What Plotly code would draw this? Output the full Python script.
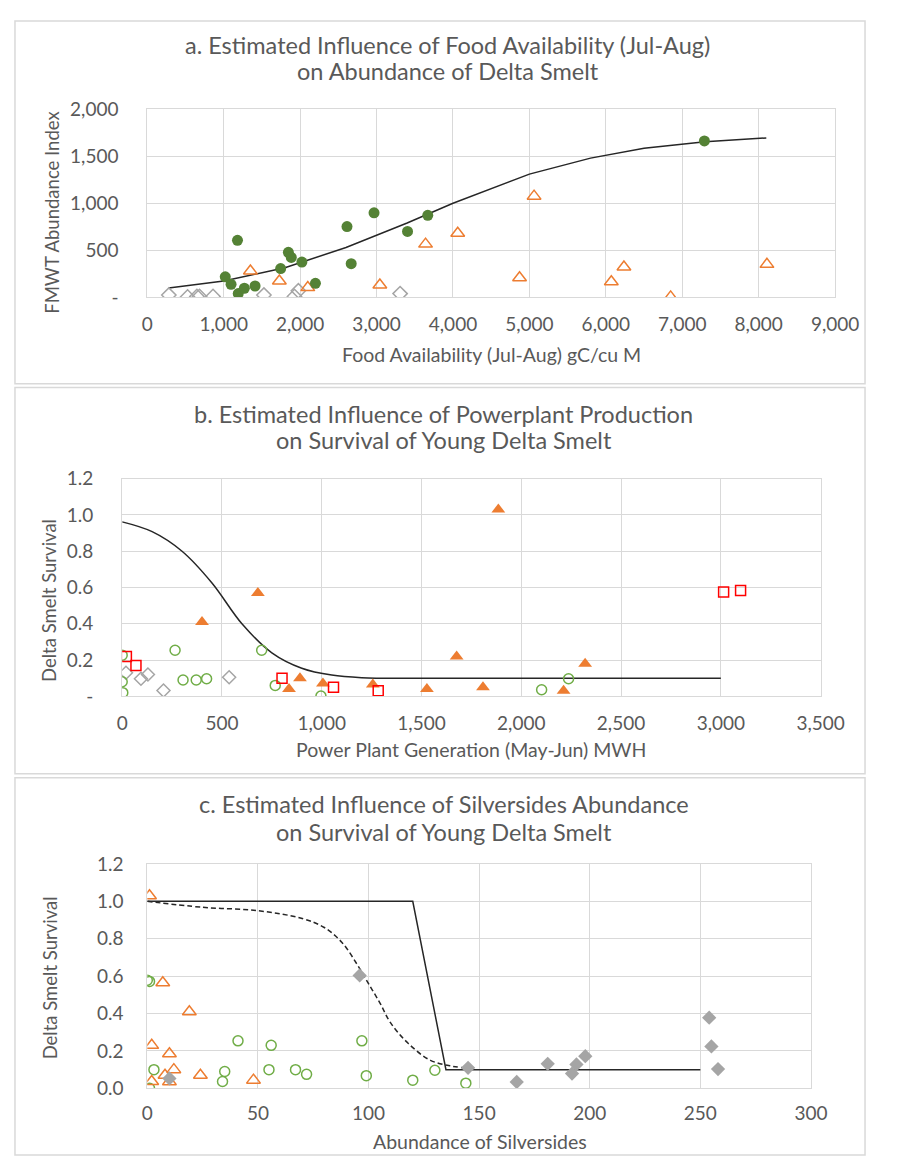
import plotly.graph_objects as go

# page has an 8px body margin; figure sized so the page does not overflow
OFF = 8
W, H = 898 - 2 * OFF, 1175 - 2 * OFF

# ---------------- Panel a data ----------------
a_green_x = [1020, 1096, 1180, 1190, 1270, 1410, 1745, 1846, 1884, 2023, 2200, 2613, 2668, 2967, 3405, 3670, 7290]
a_green_y = [219, 139, 607, 40, 97, 121, 306, 479, 424, 375, 149, 753, 358, 899, 701, 872, 1663]
a_tri_x = [1349, 1728, 2100, 3043, 3641, 4062, 4871, 5061, 6072, 6237, 6848, 8108]
a_tri_y = [281, 174, 104, 132, 566, 681, 208, 1076, 167, 323, 5, 351]
a_dia_x = [282, 527, 649, 683, 860, 1526, 1926, 1977, 3308]
a_dia_y = [25, 5, 10, 10, 10, 25, 10, 70, 40]
a_fit_x = [280, 1000, 1800, 2600, 3400, 4000, 5000, 5800, 6500, 7300, 8100]
a_fit_y = [100, 175, 315, 530, 790, 1000, 1310, 1480, 1585, 1655, 1695]
a_xticks = [0, 1000, 2000, 3000, 4000, 5000, 6000, 7000, 8000, 9000]
a_xticktext = ["0", "1,000", "2,000", "3,000", "4,000", "5,000", "6,000", "7,000", "8,000", "9,000"]
a_yticks = [0, 500, 1000, 1500, 2000]
a_yticktext = ["-", "500", "1,000", "1,500", "2,000"]

# ---------------- Panel b data ----------------
b_tri_x = [400, 680, 836, 891, 1006, 1256, 1527, 1676, 1808, 1885, 2212, 2320]
b_tri_y = [0.41, 0.57, 0.04, 0.10, 0.07, 0.065, 0.04, 0.22, 0.05, 1.03, 0.03, 0.18]
b_sq_x = [21, 69, 801, 1059, 1283, 3014, 3099]
b_sq_y = [0.22, 0.17, 0.10, 0.05, 0.03, 0.575, 0.584]
b_circ_x = [0, 0, 3, 265, 305, 371, 423, 699, 767, 996, 2102, 2237]
b_circ_y = [0.227, 0.08, 0.02, 0.254, 0.09, 0.09, 0.097, 0.254, 0.06, 0.002, 0.036, 0.097]
b_dia_x = [19, 94, 129, 207, 536]
b_dia_y = [0.13, 0.097, 0.12, 0.032, 0.105]
b_fit_x = [0, 150, 300, 450, 600, 750, 900, 1050, 1200, 1500, 3000]
b_fit_y = [0.962, 0.908, 0.80, 0.625, 0.40, 0.24, 0.155, 0.117, 0.103, 0.10, 0.10]
b_xticks = [0, 500, 1000, 1500, 2000, 2500, 3000, 3500]
b_xticktext = ["0", "500", "1,000", "1,500", "2,000", "2,500", "3,000", "3,500"]
b_yticks = [0, 0.2, 0.4, 0.6, 0.8, 1.0, 1.2]
b_yticktext = ["-", "0.2", "0.4", "0.6", "0.8", "1.0", "1.2"]

# ---------------- Panel c data ----------------
c_tri_x = [1, 7, 19, 2, 10, 12, 8, 2, 10, 24, 48]
c_tri_y = [1.03, 0.565, 0.41, 0.23, 0.185, 0.10, 0.07, 0.037, 0.035, 0.07, 0.044]
c_circ_x = [0, 1, 3, 1, 41, 56, 35, 34, 55, 67, 72, 97, 99, 120, 130, 144]
c_circ_y = [0.578, 0.572, 0.10, 0.0, 0.254, 0.23, 0.09, 0.037, 0.10, 0.10, 0.075, 0.254, 0.068, 0.044, 0.097, 0.028]
c_dia_x = [10, 96, 145, 167, 181, 192, 194, 198, 254, 255, 258]
c_dia_y = [0.053, 0.604, 0.11, 0.034, 0.131, 0.079, 0.128, 0.172, 0.378, 0.224, 0.103]
c_step_x = [0, 120, 135, 250]
c_step_y = [1.0, 1.0, 0.10, 0.10]
c_curve_x = [0, 25, 50, 70, 80, 88, 95, 100, 105, 110, 118, 128, 138, 148]
c_curve_y = [1.0, 0.968, 0.95, 0.908, 0.86, 0.78, 0.66, 0.56, 0.46, 0.35, 0.24, 0.15, 0.118, 0.105]
c_xticks = [0, 50, 100, 150, 200, 250, 300]
c_xticktext = ["0", "50", "100", "150", "200", "250", "300"]
c_yticks = [0, 0.2, 0.4, 0.6, 0.8, 1.0, 1.2]
c_yticktext = ["0.0", "0.2", "0.4", "0.6", "0.8", "1.0", "1.2"]

# ---------------- styling ----------------
FONT = "Lato"
TXT = "#595959"
GRID = "#d9d9d9"
GREEN_D = "#548235"
GREEN_L = "#70ad47"
ORANGE = "#ed7d31"
GREY = "#a5a5a5"
RED = "#ff0000"
LINE = "#262626"
TICK_SIZE = 19
XT_SIZE = 19.5
YT_SIZE = 18.5
TITLE_SIZE = 23.5


def PX(p):
    return (p - OFF) / W


def PY(p):
    return 1 - (p - OFF) / H


def dom_x(x0, x1):
    return [PX(x0), PX(x1)]


def dom_y(top, bottom):
    return [PY(bottom), PY(top)]


fig = go.Figure()


def sc(x, y, xa, ya, symbol, size, color, fill=None, lw=1.5):
    fig.add_trace(go.Scatter(
        x=x, y=y, mode="markers", xaxis=xa, yaxis=ya, showlegend=False,
        marker=dict(symbol=symbol, size=size,
                    color=fill if fill else color,
                    line=dict(color=color, width=lw)),
        hoverinfo="x+y"))


def ln(x, y, xa, ya, dash="solid", shape="linear"):
    fig.add_trace(go.Scatter(
        x=x, y=y, mode="lines", xaxis=xa, yaxis=ya, showlegend=False,
        line=dict(color=LINE, width=1.5, dash=dash, shape=shape),
        hoverinfo="skip"))


# panel a
ln(a_fit_x, a_fit_y, "x", "y")
sc(a_dia_x, a_dia_y, "x", "y", "diamond-open", 11, GREY)
sc(a_tri_x, a_tri_y, "x", "y", "triangle-up-open", 12, ORANGE)
sc(a_green_x, a_green_y, "x", "y", "circle", 11, GREEN_D, fill=GREEN_D, lw=0)

# panel b
ln(b_fit_x, b_fit_y, "x2", "y2", shape="spline")
sc(b_dia_x, b_dia_y, "x2", "y2", "diamond-open", 10, GREY)
sc(b_circ_x, b_circ_y, "x2", "y2", "circle-open", 10, GREEN_L)
sc(b_tri_x, b_tri_y, "x2", "y2", "triangle-up", 12, ORANGE, fill=ORANGE, lw=0)
sc(b_sq_x, b_sq_y, "x2", "y2", "square-open", 10, RED)

# panel c
ln(c_curve_x, c_curve_y, "x3", "y3", dash="5px,3px", shape="spline")
ln(c_step_x, c_step_y, "x3", "y3")
sc(c_circ_x, c_circ_y, "x3", "y3", "circle-open", 10, GREEN_L)
sc(c_tri_x, c_tri_y, "x3", "y3", "triangle-up-open", 12, ORANGE)
sc(c_dia_x, c_dia_y, "x3", "y3", "diamond", 11, GREY, fill=GREY, lw=0)


def xax(dom, rng, tv, tt, anchor, standoff):
    return dict(domain=dom, range=rng, tickvals=tv, ticktext=tt, anchor=anchor,
                showgrid=True, gridcolor=GRID, gridwidth=1, zeroline=False,
                showline=True, linecolor=GRID, mirror=True,
                ticks="", ticklabelstandoff=standoff,
                tickfont=dict(family=FONT, size=TICK_SIZE, color=TXT), fixedrange=True)


def yax(dom, rng, tv, tt, anchor, standoff):
    return dict(domain=dom, range=rng, tickvals=tv, ticktext=tt, anchor=anchor,
                showgrid=True, gridcolor=GRID, gridwidth=1, zeroline=False,
                showline=True, linecolor=GRID, mirror=True,
                ticks="", ticklabelstandoff=standoff,
                tickfont=dict(family=FONT, size=TICK_SIZE, color=TXT), fixedrange=True)


layout = dict(
    width=W, height=H, margin=dict(l=0, r=0, t=0, b=0),
    paper_bgcolor="white", plot_bgcolor="white",
    xaxis=xax(dom_x(146, 858), [0, 9000], a_xticks, a_xticktext, "y", 10),
    yaxis=yax(dom_y(99, 291), [0, 2000], a_yticks, a_yticktext, "x", 24),
    xaxis2=xax(dom_x(120, 843), [0, 3500], b_xticks, b_xticktext, "y2", 10),
    yaxis2=yax(dom_y(476, 698), [0, 1.2], b_yticks, b_yticktext, "x2", 24),
    xaxis3=xax(dom_x(146, 833), [0, 300], c_xticks, c_xticktext, "y3", 8),
    yaxis3=yax(dom_y(869, 1098), [0, 1.2], c_yticks, c_yticktext, "x3", 19),
)
fig.update_layout(**layout)

# panel borders
for (x0, y0, x1, y1) in [(9, 9, 889, 379), (9, 383, 889, 777), (9, 781, 889, 1166)]:
    fig.add_shape(type="rect", xref="paper", yref="paper",
                  x0=PX(x0), x1=PX(x1), y0=PY(y1), y1=PY(y0),
                  line=dict(color=GRID, width=1.5), layer="below")


def ann(text, x, y, size, angle=0):
    fig.add_annotation(text=text, x=PX(x), y=PY(y), xref="paper", yref="paper",
                       showarrow=False, textangle=angle, xanchor="center", yanchor="middle",
                       font=dict(family=FONT, size=size, color=TXT))


ann("a. Estimated Influence of Food Availability (Jul-Aug)", 457, 33, TITLE_SIZE)
ann("on Abundance of Delta Smelt", 457, 60, TITLE_SIZE)
ann("FMWT Abundance Index", 47, 205, YT_SIZE, -90)
ann("Food Availability (Jul-Aug) gC/cu M", 502, 349, XT_SIZE)

ann("b. Estimated Influence of Powerplant Production", 453, 410, TITLE_SIZE)
ann("on Survival of Young Delta Smelt", 453, 437, TITLE_SIZE)
ann("Delta Smelt Survival", 45, 600, YT_SIZE, -90)
ann("Power Plant Generation (May-Jun) MWH", 481, 752, XT_SIZE)

ann("c. Estimated Influence of Silversides Abundance", 453, 808, TITLE_SIZE)
ann("on Survival of Young Delta Smelt", 453, 836, TITLE_SIZE)
ann("Delta Smelt Survival", 45, 985, YT_SIZE, -90)
ann("Abundance of Silversides", 490, 1152, XT_SIZE)

fig.write_html("out.html")
